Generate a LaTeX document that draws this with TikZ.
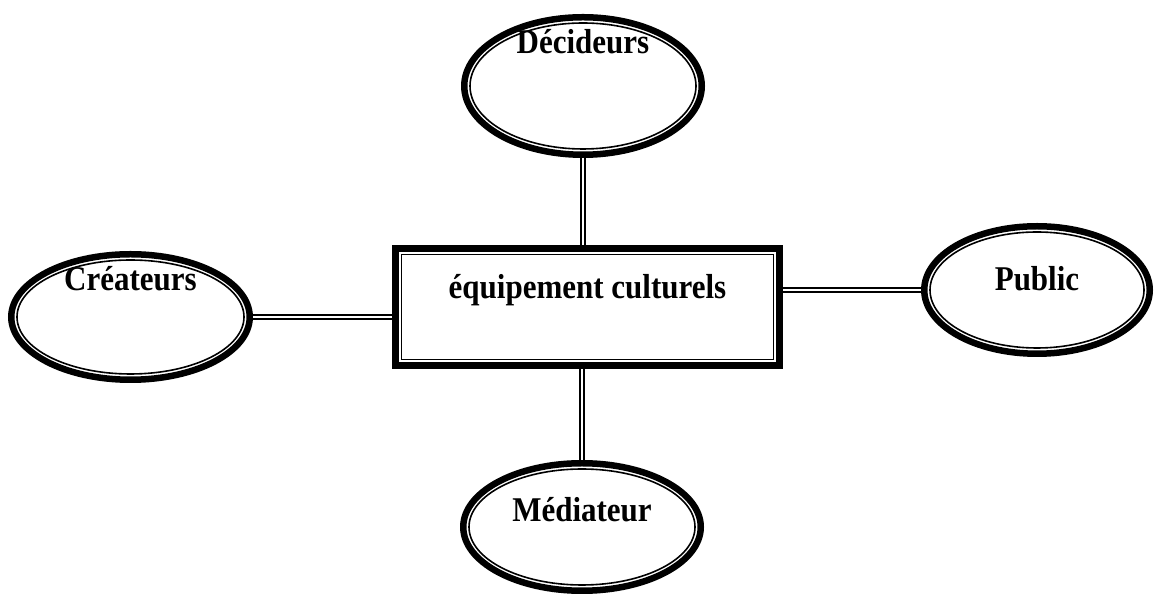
\documentclass[tikz,border=0pt]{standalone}
\usepackage{fontspec}
\setmainfont{Liberation Serif}
\usetikzlibrary{shapes.geometric}
\newcommand{\etiq}[1]{\scalebox{1}[1.12]{#1}}
\begin{document}
\begin{tikzpicture}[x=.5pt,y=-.5pt,
	acteur/.style={ellipse,draw,line width=3.25pt,inner sep=0pt},
	fin/.style={line width=.8pt},
	lien/.style={double,line width=.8pt,double distance=1.2pt},
	titre/.style={font=\bfseries\fontsize{15.5}{18}\selectfont,anchor=base}]
	\useasboundingbox (0,0) rectangle (1156,597);
	
	% cadre central
	\node[draw,line width=3.5pt,minimum width=192pt,minimum height=58.5pt,inner sep=0pt] (equip) at (587.5,307) {};
	\draw[fin] ([shift={(-186,-52.5)}]equip.center) rectangle ([shift={(186,52.5)}]equip.center);
	
	% les acteurs
	\node[acteur,minimum width=118.75pt,minimum height=68.75pt] (dec) at (583,86) {};
	\node[acteur,minimum width=119.25pt,minimum height=62.75pt] (cre) at (130.5,317) {};
	\node[acteur,minimum width=112.75pt,minimum height=63.75pt] (pub) at (1037,290) {};
	\node[acteur,minimum width=118.75pt,minimum height=63.75pt] (med) at (582,527) {};
	\foreach \nom/\ra/\rb in {dec/113/63,cre/113.5/57,pub/107/58,med/113/58}
		\draw[fin] (\nom.center) ellipse ({\ra} and {\rb});
	
	\node[titre] (equip-t) at (587.5,299) {\etiq{équipement culturels}};
	\node[titre] (dec-t) at (583,54) {\etiq{Décideurs}};
	\node[titre] (cre-t) at (130.5,291) {\etiq{Créateurs}};
	\node[titre] (pub-t) at (1037,291) {\etiq{Public}};
	\node[titre] (med-t) at (582,522) {\etiq{Médiateur}};
	
	% liens
	\draw[lien] (cre.east) -- (cre.east -| equip.west);
	\draw[lien] (equip.east |- pub.west) -- (pub.west);
	\draw[lien] (dec.south) -- (dec.south |- equip.north);
	\draw[lien] (equip.south -| med.north) -- (med.north);
\end{tikzpicture}
\end{document}
